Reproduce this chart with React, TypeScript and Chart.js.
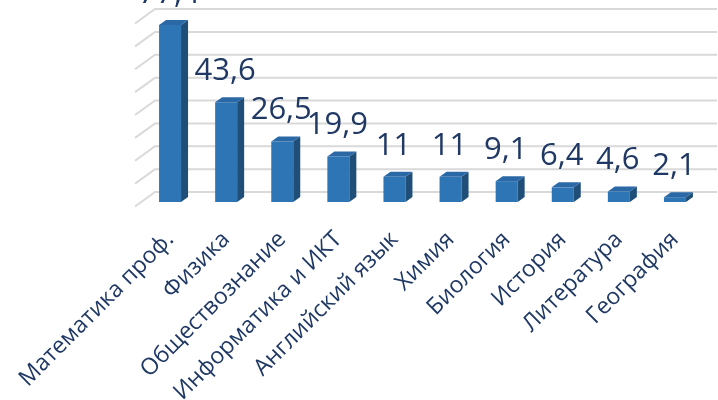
import React, { useEffect, useRef } from "react";
import { Chart, registerables } from "chart.js";

Chart.register(...registerables);

const categories = [
  "Математика проф.",
  "Физика",
  "Обществознание",
  "Информатика и ИКТ",
  "Английский язык",
  "Химия",
  "Биология",
  "История",
  "Литература",
  "География",
];
const values = [77.4, 43.6, 26.5, 19.9, 11, 11, 9.1, 6.4, 4.6, 2.1];
const yMin = 0;
const yMax = 80;
const yStep = 10;

const FRONT = "#2E75B6";
const SIDE = "#1F4E79";
const TOP = "#2A68A6";
const TEXT = "#1F3864";
const GRID = "#D9D9D9";

const DEPTH_X = 7;
const DEPTH_Y = 5;

const wallPlugin = {
  id: "wall",
  beforeDatasetsDraw(chart: any) {
    const { ctx, scales } = chart;
    const ys = scales.y;
    const ticks = ys.ticks && ys.ticks.length ? ys.ticks.map((t: any) => t.value) : [];
    const xFirst = scales.x.getPixelForValue(0);
    ctx.save();
    ctx.strokeStyle = GRID;
    ctx.lineWidth = 2;
    ticks.forEach((v: number) => {
      const y = ys.getPixelForValue(v) - 10;
      const xb = xFirst - 15;
      ctx.beginPath();
      ctx.moveTo(xb - 20, y + 14.5);
      ctx.lineTo(xb, y);
      ctx.lineTo(chart.width - 1, y);
      ctx.stroke();
    });
    ctx.restore();
  },
};

const bar3dPlugin = {
  id: "bar3d",
  afterDatasetsDraw(chart: any) {
    const { ctx } = chart;
    const meta = chart.getDatasetMeta(0);
    ctx.save();
    meta.data.forEach((el: any, i: number) => {
      const { x, y, base, width } = el.getProps(["x", "y", "base", "width"], true);
      const l = x - width / 2;
      const r = x + width / 2;
      ctx.fillStyle = SIDE;
      ctx.beginPath();
      ctx.moveTo(r, y);
      ctx.lineTo(r + DEPTH_X, y - DEPTH_Y);
      ctx.lineTo(r + DEPTH_X, base - DEPTH_Y);
      ctx.lineTo(r, base);
      ctx.closePath();
      ctx.fill();
      ctx.fillStyle = TOP;
      ctx.beginPath();
      ctx.moveTo(l, y);
      ctx.lineTo(l + DEPTH_X, y - DEPTH_Y);
      ctx.lineTo(r + DEPTH_X, y - DEPTH_Y);
      ctx.lineTo(r, y);
      ctx.closePath();
      ctx.fill();
      ctx.fillStyle = TEXT;
      ctx.font = "31px 'Open Sans'";
      ctx.textAlign = "center";
      ctx.textBaseline = "alphabetic";
      ctx.fillText(String(values[i]).replace(".", ","), x - 1, y - 22);
    });
    ctx.restore();
  },
};

export default function App() {
  const ref = useRef<HTMLCanvasElement>(null);
  useEffect(() => {
    if (!ref.current) return;
    const chart = new Chart(ref.current, {
      type: "bar",
      data: {
        labels: categories,
        datasets: [
          {
            data: values,
            backgroundColor: FRONT,
            borderWidth: 0,
            barPercentage: 0.392,
            categoryPercentage: 1,
          },
        ],
      },
      options: {
        animation: false,
        responsive: true,
        maintainAspectRatio: false,
        layout: { padding: { left: 142, right: 15, top: 19, bottom: 0 } },
        plugins: { legend: { display: false }, tooltip: { enabled: false } },
        scales: {
          x: {
            grid: { display: false, drawTicks: false },
            border: { display: false },
            ticks: {
              color: TEXT,
              font: { family: "'Open Sans'", size: 23 },
              minRotation: 45,
              maxRotation: 45,
              autoSkip: false,
              padding: 24,
            },
            afterFit(scale: any) {
              scale.height = 198;
              scale.paddingLeft = 0;
              scale.paddingRight = 0;
            },
          },
          y: {
            display: false,
            min: yMin,
            max: yMax,
            ticks: { stepSize: yStep },
          },
        },
      },
      plugins: [wallPlugin, bar3dPlugin],
    });
    return () => chart.destroy();
  }, []);
  return (
    <div style={{ position: "absolute", left: 0, top: 0, width: 718, height: 400 }}>
      <canvas ref={ref} />
    </div>
  );
}
